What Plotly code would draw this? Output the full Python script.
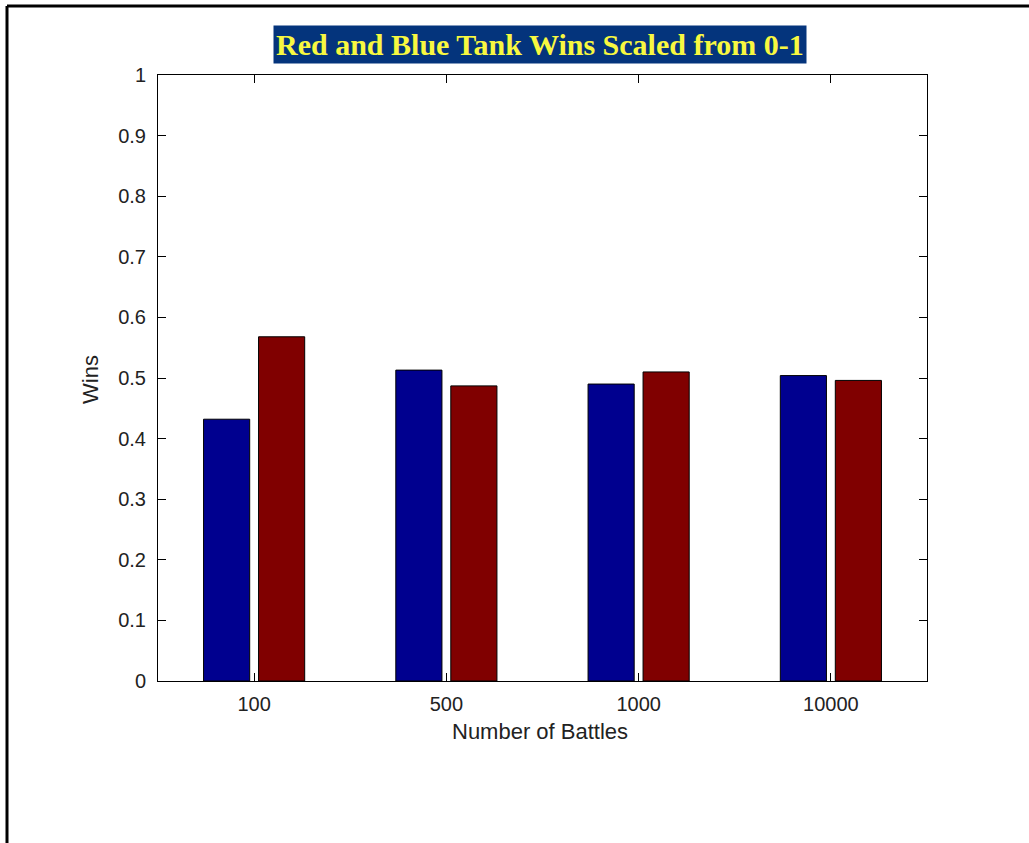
import plotly.graph_objects as go

categories = ["100", "500", "1000", "10000"]
blue_wins = [0.432, 0.513, 0.490, 0.504]
red_wins = [0.568, 0.487, 0.510, 0.496]
y_ticks = [0, 0.1, 0.2, 0.3, 0.4, 0.5, 0.6, 0.7, 0.8, 0.9, 1]
y_tick_labels = ["0", "0.1", "0.2", "0.3", "0.4", "0.5", "0.6", "0.7", "0.8", "0.9", "1"]

W, H = 1029, 843
L, R, T, B = 158, 927, 75, 681

def px_x(p):
    return (p - L) / (R - L)

def px_y(p):
    return (B - p) / (B - T)

xpos = list(range(len(categories)))

fig = go.Figure()
fig.add_trace(go.Bar(x=xpos, y=blue_wins, width=0.24, offset=-0.263,
                     marker=dict(color="#00008f", line=dict(color="black", width=1)),
                     name="Blue"))
fig.add_trace(go.Bar(x=xpos, y=red_wins, width=0.24, offset=0.023,
                     marker=dict(color="#800000", line=dict(color="black", width=1)),
                     name="Red"))

sans = "Liberation Sans, Arial, sans-serif"
tickfont = dict(family=sans, size=20, color="#222222")

fig.update_layout(
    width=W, height=H,
    margin=dict(l=L, r=W - R, t=T, b=H - B, pad=0),
    paper_bgcolor="white", plot_bgcolor="white",
    showlegend=False,
    barmode="group",
    xaxis=dict(range=[-0.5, 3.5], tickmode="array", tickvals=xpos, ticktext=categories,
               ticks="inside", ticklen=8, tickcolor="black", tickwidth=1,
               showline=True, linecolor="black", linewidth=1, mirror="ticks",
               showgrid=False, zeroline=False, tickfont=tickfont, ticklabelstandoff=5),
    yaxis=dict(range=[0, 1], tickmode="array", tickvals=y_ticks, ticktext=y_tick_labels,
               ticks="inside", ticklen=8, tickcolor="black", tickwidth=1,
               showline=True, linecolor="black", linewidth=1, mirror="ticks",
               showgrid=False, zeroline=False, tickfont=tickfont, ticklabelstandoff=7),
)

fig.add_annotation(text="Red and Blue Tank Wins Scaled from 0-1", xref="paper", yref="paper",
                   x=px_x(540), y=px_y(44), xanchor="center", yanchor="middle", showarrow=False,
                   font=dict(family="Liberation Serif, Times New Roman, serif", size=30,
                             color="#f8f840", weight="bold"),
                   bgcolor="#04347c", borderpad=2)
fig.add_annotation(text="Wins", xref="paper", yref="paper", x=px_x(91), y=px_y(380),
                   xanchor="center", yanchor="middle", textangle=-90, showarrow=False,
                   font=dict(family=sans, size=22, color="#222222"))
fig.add_annotation(text="Number of Battles", xref="paper", yref="paper", x=px_x(540), y=px_y(731),
                   xanchor="center", yanchor="middle", showarrow=False,
                   font=dict(family=sans, size=22, color="#222222"))

# outer frame (left and top only, as in the reference)
fig.add_shape(type="line", xref="paper", yref="paper",
              x0=px_x(7), x1=px_x(7), y0=px_y(H + 5), y1=px_y(6),
              line=dict(color="black", width=3))
fig.add_shape(type="line", xref="paper", yref="paper",
              x0=px_x(7), x1=px_x(W + 5), y0=px_y(6), y1=px_y(6),
              line=dict(color="black", width=3))

fig.write_html("out.html", config={"displayModeBar": False},
               post_script="document.body.style.margin='0px';")
